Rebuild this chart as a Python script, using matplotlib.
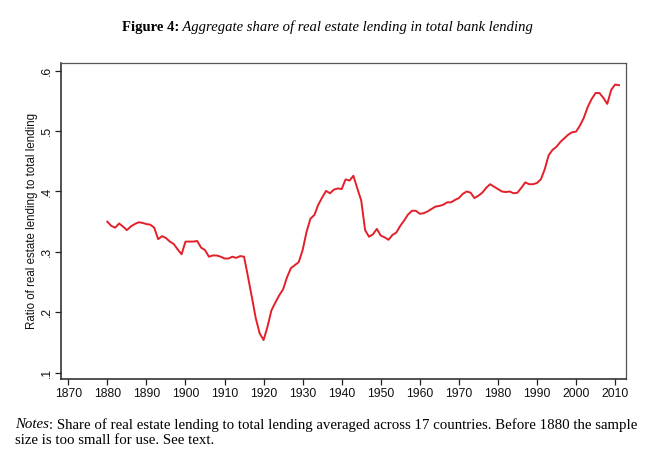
import matplotlib
matplotlib.use("Agg")
import matplotlib.pyplot as plt
from matplotlib.ticker import FixedLocator, FuncFormatter

years = list(range(1880, 2012))
share = [
    0.350, 0.343, 0.340, 0.347, 0.342, 0.336, 0.342, 0.346, 0.349, 0.348,  # 1880s
    0.346, 0.345, 0.340, 0.321, 0.326, 0.323, 0.317, 0.313, 0.304, 0.296,  # 1890s
    0.317, 0.317, 0.317, 0.318, 0.307, 0.303, 0.292, 0.294, 0.294, 0.292,  # 1900s
    0.289, 0.289, 0.292, 0.290, 0.293, 0.292, 0.259, 0.225, 0.190, 0.165,  # 1910s
    0.154, 0.176, 0.203, 0.216, 0.228, 0.238, 0.258, 0.273, 0.278, 0.283,  # 1920s
    0.303, 0.333, 0.355, 0.361, 0.378, 0.390, 0.401, 0.397, 0.403, 0.405,  # 1930s
    0.404, 0.420, 0.418, 0.426, 0.405, 0.385, 0.336, 0.325, 0.329, 0.338,  # 1940s
    0.327, 0.324, 0.320, 0.328, 0.332, 0.343, 0.352, 0.362, 0.368, 0.368,  # 1950s
    0.363, 0.364, 0.367, 0.371, 0.375, 0.376, 0.378, 0.382, 0.382, 0.386,  # 1960s
    0.389, 0.396, 0.400, 0.398, 0.389, 0.393, 0.398, 0.406, 0.412, 0.408,  # 1970s
    0.404, 0.400, 0.399, 0.400, 0.397, 0.398, 0.406, 0.415, 0.412, 0.412,  # 1980s
    0.414, 0.420, 0.437, 0.460, 0.469, 0.474, 0.482, 0.488, 0.494, 0.498,  # 1990s
    0.499, 0.509, 0.522, 0.540, 0.553, 0.563, 0.563, 0.555, 0.545, 0.568,  # 2000s
    0.577, 0.576,                                                          # 2010s
]

x_ticks = list(range(1870, 2011, 10))
y_ticks = [0.1, 0.2, 0.3, 0.4, 0.5, 0.6]

title_bold = "Figure 4:"
title_italic = " Aggregate share of real estate lending in total bank lending"
y_label = "Ratio of real estate lending to total lending"
notes_italic = "Notes"
notes_line1 = ": Share of real estate lending to total lending averaged across 17 countries. Before 1880 the sample"
notes_line2 = "size is too small for use. See text."

fig = plt.figure(figsize=(6.68, 4.57), dpi=100)
ax = fig.add_axes([60.7 / 668, 1 - 379.3 / 457, (626 - 60.7) / 668, (379.3 - 63) / 457])

ax.plot(years, share, color="#e3202a", lw=1.4, solid_joinstyle="round")

ax.set_xlim(1868.05, 2012.8)
ax.set_ylim(0.089, 0.6127)
ax.xaxis.set_major_locator(FixedLocator(x_ticks))
ax.yaxis.set_major_locator(FixedLocator(y_ticks))
ax.yaxis.set_major_formatter(FuncFormatter(lambda v, p: ("%.1f" % v).lstrip("0")))

sans = ["Liberation Sans", "DejaVu Sans"]
serif = ["Liberation Serif", "DejaVu Serif"]

ax.tick_params(axis="both", direction="out", length=4, width=0.9, color="#222222",
               labelsize=8.8, labelcolor="#111111")
ax.tick_params(axis="x", pad=2.5)
ax.tick_params(axis="y", pad=1.5)
for lab in ax.get_xticklabels() + ax.get_yticklabels():
    lab.set_fontfamily(sans)
for lab in ax.get_yticklabels():
    lab.set_rotation(90)
    lab.set_va("center")

ax.set_ylabel(y_label, fontsize=8.3, family=sans, labelpad=2.5, color="#111111")

for s in ["top", "right"]:
    ax.spines[s].set_color("#555555")
    ax.spines[s].set_linewidth(0.9)
for s in ["bottom", "left"]:
    ax.spines[s].set_color("#222222")
    ax.spines[s].set_linewidth(1.1)

# title
t1 = fig.text(122 / 668, 1 - 27 / 457, title_bold, fontsize=10.5, fontweight="bold",
              family=serif, va="center", ha="left")
ax.annotate(title_italic, xy=(1, 0), xycoords=t1, va="bottom", ha="left",
            fontsize=10.5, style="italic", family=serif, annotation_clip=False)

# notes
n1 = fig.text(15 / 668, 1 - 425 / 457, notes_italic, fontsize=10.7, style="italic",
              family=serif, va="center", ha="left")
ax.annotate(notes_line1, xy=(1, 0), xycoords=n1, va="bottom", ha="left",
            fontsize=10.7, family=serif, annotation_clip=False)
fig.text(15 / 668, 1 - 441 / 457, notes_line2, fontsize=10.7, family=serif,
         va="center", ha="left")

fig.savefig("out.png", dpi=100, facecolor="white")
